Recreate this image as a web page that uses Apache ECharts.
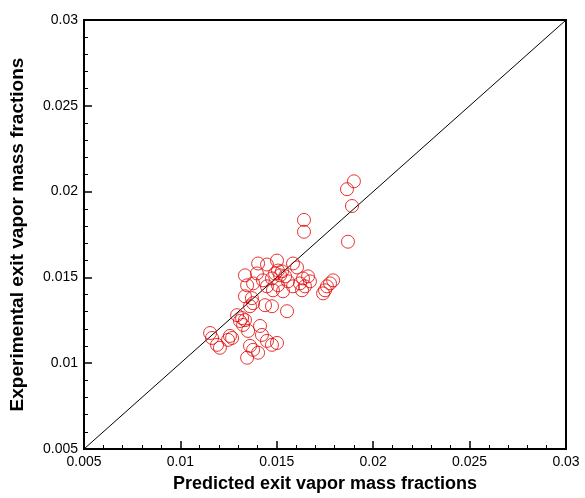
<!DOCTYPE html>
<html><head><meta charset="utf-8">
<script src="https://cdn.jsdelivr.net/npm/echarts@6/dist/echarts.min.js"></script>
<style>html,body{margin:0;padding:0;background:#fff}#c{width:585px;height:498px}</style>
</head><body><div id="c"></div>
<script>
const predicted = [0.0190,0.01864,0.0189,0.01641,0.01641,0.01869,0.01584,0.01605,0.01636,0.01662,
0.0162,0.01646,0.01672,0.01631,0.01792,0.01776,0.0176,0.0175,0.0174,
0.01403,0.01449,0.01501,0.01506,0.01527,0.01491,0.01517,0.01543,0.01475,0.01428,
0.01377,0.01335,0.01397,0.01346,0.01558,0.01584,0.01506,0.0148,0.01532,0.01449,
0.01335,0.01371,0.01377,0.01361,0.01439,0.01475,0.01553,0.01294,0.0132,0.01335,
0.01309,0.01325,0.01413,0.01423,0.01351,0.01154,0.01164,0.0119,0.01205,0.01257,
0.01268,0.01247,0.01449,0.01475,0.01501,0.01361,0.01377,0.01403,0.01346];
const experimental = [0.0206,0.02014,0.01916,0.01835,0.01766,0.01708,0.01581,0.01558,0.01494,0.01506,
0.01465,0.01448,0.01477,0.01425,0.01483,0.01465,0.01448,0.01425,0.01407,
0.01581,0.01575,0.01598,0.0154,0.01535,0.01523,0.01512,0.01506,0.01494,0.01483,
0.01465,0.01512,0.01523,0.01454,0.01477,0.01448,0.01454,0.01425,0.01419,0.01448,
0.0139,0.01379,0.0135,0.01332,0.01338,0.01332,0.01303,0.0128,0.01263,0.01251,
0.01246,0.01223,0.01217,0.01165,0.01188,0.01176,0.01147,0.01107,0.0109,0.01159,
0.01147,0.01136,0.0113,0.01107,0.01118,0.01101,0.01078,0.01061,0.01032];
const diagonal = [[0.005,0.005],[0.03,0.03]];
const axisMin = 0.005, axisMax = 0.03, axisStep = 0.005;

const fmt = v => parseFloat(v.toFixed(4)).toString();
const chart = echarts.init(document.getElementById('c'));
const axisCommon = {
  type:'value', min:axisMin, max:axisMax, interval:axisStep,
  nameLocation:'middle',
  axisLine:{show:true, lineStyle:{color:'#000', width:2}},
  axisTick:{show:true, inside:true, length:8, lineStyle:{color:'#000', width:1.5}},
  minorTick:{show:true, splitNumber:5, length:4, lineStyle:{color:'#000', width:1}},
  splitLine:{show:false},
  axisLabel:{fontFamily:'Liberation Sans, Arial', fontSize:14, color:'#000', formatter:fmt}
};
chart.setOption({
  animation:false,
  grid:{left:84, right:19, top:20, bottom:46, show:true, borderColor:'#000', borderWidth:2},
  xAxis:Object.assign({}, axisCommon, {name:'Predicted exit vapor mass fractions', nameGap:26,
    nameTextStyle:{fontFamily:'Liberation Sans, Arial', fontWeight:'bold', fontSize:18, color:'#000'},
    axisLabel:Object.assign({}, axisCommon.axisLabel, {margin:6})}),
  yAxis:Object.assign({}, axisCommon, {name:'Experimental exit vapor mass fractions', nameGap:57,
    nameTextStyle:{fontFamily:'Liberation Sans, Arial', fontWeight:'bold', fontSize:19, color:'#000'},
    axisLabel:Object.assign({}, axisCommon.axisLabel, {margin:6})}),
  series:[
    {type:'line', data:diagonal, symbol:'none', lineStyle:{color:'#000', width:1}, z:1},
    {type:'scatter', data:predicted.map((x,i)=>[x, experimental[i]]), symbol:'circle', symbolSize:13,
     itemStyle:{color:'rgba(0,0,0,0)', borderColor:'#e00000', borderWidth:1}, z:2}
  ]
});
</script></body></html>
